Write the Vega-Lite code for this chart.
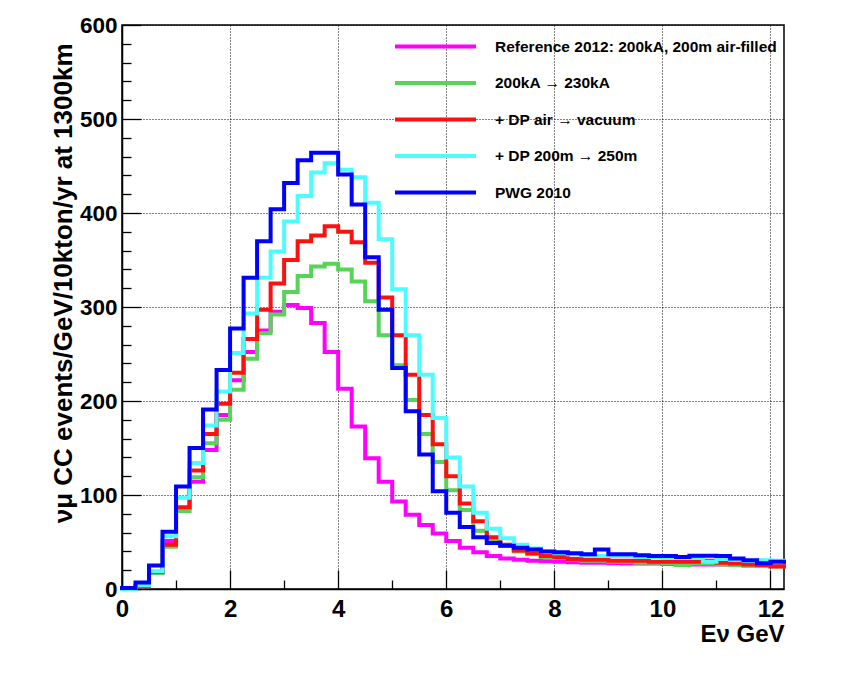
{
  "$schema": "https://vega.github.io/schema/vega-lite/v6.json",
  "width": 662,
  "height": 564,
  "autosize": {"type": "none"},
  "padding": {"left": 122, "top": 25, "right": 59, "bottom": 89},
  "background": "white",
  "config": {
    "view": {"stroke": "black", "strokeWidth": 1.5},
    "axis": {
      "domainColor": "black", "domainWidth": 1.5,
      "tickColor": "black", "tickWidth": 1.3,
      "gridColor": "black", "gridDash": [1, 2], "gridWidth": 1,
      "labelFont": "Liberation Sans", "labelFontWeight": "bold", "labelColor": "black",
      "titleFont": "Liberation Sans", "titleFontWeight": "bold", "titleColor": "black",
      "labelFlush": false, "labelOverlap": false
    }
  },
  "data": {
    "values": [
      {"E": 0, "ref": 0, "ka": 0, "vac": 0, "len": 0, "pwg": 1},
      {"E": 0.25, "ref": 3, "ka": 3, "vac": 3, "len": 4, "pwg": 7},
      {"E": 0.5, "ref": 17, "ka": 17, "vac": 18, "len": 19, "pwg": 25},
      {"E": 0.75, "ref": 51, "ka": 45, "vac": 47, "len": 56, "pwg": 61},
      {"E": 1.0, "ref": 86, "ka": 83, "vac": 87, "len": 97, "pwg": 109},
      {"E": 1.25, "ref": 114, "ka": 119, "vac": 126, "len": 134, "pwg": 150},
      {"E": 1.5, "ref": 148, "ka": 155, "vac": 165, "len": 174, "pwg": 191},
      {"E": 1.75, "ref": 185, "ka": 180, "vac": 197, "len": 210, "pwg": 233},
      {"E": 2.0, "ref": 222, "ka": 212, "vac": 230, "len": 251, "pwg": 277},
      {"E": 2.25, "ref": 252, "ka": 245, "vac": 266, "len": 293, "pwg": 331},
      {"E": 2.5, "ref": 275, "ka": 272, "vac": 297, "len": 331, "pwg": 370},
      {"E": 2.75, "ref": 295, "ka": 292, "vac": 325, "len": 359, "pwg": 404},
      {"E": 3.0, "ref": 302, "ka": 316, "vac": 350, "len": 391, "pwg": 432},
      {"E": 3.25, "ref": 299, "ka": 333, "vac": 370, "len": 418, "pwg": 456},
      {"E": 3.5, "ref": 283, "ka": 343, "vac": 376, "len": 443, "pwg": 464},
      {"E": 3.75, "ref": 252, "ka": 346, "vac": 386, "len": 453, "pwg": 464},
      {"E": 4.0, "ref": 213, "ka": 340, "vac": 380, "len": 446, "pwg": 441},
      {"E": 4.25, "ref": 173, "ka": 327, "vac": 369, "len": 438, "pwg": 409},
      {"E": 4.5, "ref": 139, "ka": 306, "vac": 347, "len": 411, "pwg": 353},
      {"E": 4.75, "ref": 114, "ka": 270, "vac": 310, "len": 372, "pwg": 297},
      {"E": 5.0, "ref": 93, "ka": 238, "vac": 270, "len": 319, "pwg": 235},
      {"E": 5.25, "ref": 79, "ka": 201, "vac": 228, "len": 270, "pwg": 189},
      {"E": 5.5, "ref": 68, "ka": 165, "vac": 185, "len": 228, "pwg": 143},
      {"E": 5.75, "ref": 59, "ka": 135, "vac": 154, "len": 182, "pwg": 104},
      {"E": 6.0, "ref": 51, "ka": 105, "vac": 120, "len": 140, "pwg": 81},
      {"E": 6.25, "ref": 44, "ka": 84, "vac": 91, "len": 109, "pwg": 66},
      {"E": 6.5, "ref": 39, "ka": 62, "vac": 72, "len": 81, "pwg": 55},
      {"E": 6.75, "ref": 35, "ka": 53, "vac": 55, "len": 64, "pwg": 49},
      {"E": 7.0, "ref": 32.5, "ka": 46, "vac": 47, "len": 54, "pwg": 46},
      {"E": 7.25, "ref": 31, "ka": 40, "vac": 41, "len": 47, "pwg": 44},
      {"E": 7.5, "ref": 30, "ka": 37, "vac": 38, "len": 43, "pwg": 42},
      {"E": 7.75, "ref": 29.5, "ka": 34, "vac": 35, "len": 40, "pwg": 40},
      {"E": 8.0, "ref": 29, "ka": 33, "vac": 34, "len": 38, "pwg": 39},
      {"E": 8.25, "ref": 28.5, "ka": 31, "vac": 32, "len": 37, "pwg": 38},
      {"E": 8.5, "ref": 28, "ka": 30, "vac": 31, "len": 36, "pwg": 37},
      {"E": 8.75, "ref": 28, "ka": 30, "vac": 31, "len": 35, "pwg": 42},
      {"E": 9.0, "ref": 27.5, "ka": 29, "vac": 30, "len": 35, "pwg": 37},
      {"E": 9.25, "ref": 27, "ka": 29, "vac": 30, "len": 35, "pwg": 37},
      {"E": 9.5, "ref": 27, "ka": 28, "vac": 30, "len": 34, "pwg": 36},
      {"E": 9.75, "ref": 27, "ka": 28, "vac": 29, "len": 34, "pwg": 35},
      {"E": 10.0, "ref": 26.5, "ka": 27, "vac": 29, "len": 33, "pwg": 35},
      {"E": 10.25, "ref": 26, "ka": 25.5, "vac": 29, "len": 33, "pwg": 34},
      {"E": 10.5, "ref": 26, "ka": 27, "vac": 29, "len": 33, "pwg": 35.5},
      {"E": 10.75, "ref": 26, "ka": 27, "vac": 30, "len": 29, "pwg": 35.5},
      {"E": 11.0, "ref": 26, "ka": 26, "vac": 28, "len": 32, "pwg": 35},
      {"E": 11.25, "ref": 25.5, "ka": 25.5, "vac": 27, "len": 31, "pwg": 32.5},
      {"E": 11.5, "ref": 25, "ka": 25, "vac": 26, "len": 30, "pwg": 30.5},
      {"E": 11.75, "ref": 25, "ka": 25, "vac": 25.5, "len": 30.5, "pwg": 27.5},
      {"E": 12.0, "ref": 24.5, "ka": 24, "vac": 24, "len": 30, "pwg": 29},
      {"E": 12.25, "ref": 24.5, "ka": 24, "vac": 24, "len": 30, "pwg": 29}
    ]
  },
  "transform": [{"fold": ["ref", "ka", "vac", "len", "pwg"], "as": ["series", "v"]}],
  "mark": {"type": "line", "interpolate": "step-after", "strokeWidth": 4, "strokeJoin": "miter", "strokeCap": "square"},
  "encoding": {
    "x": {
      "field": "E", "type": "quantitative",
      "scale": {"domain": [0, 12.25], "nice": false, "zero": false},
      "axis": {
        "values": [0, 0.5, 1, 1.5, 2, 2.5, 3, 3.5, 4, 4.5, 5, 5.5, 6, 6.5, 7, 7.5, 8, 8.5, 9, 9.5, 10, 10.5, 11, 11.5, 12],
        "format": "d",
        "labelExpr": "datum.value % 2 === 0 ? datum.label : ''",
        "labelFontSize": 24,
        "labelPadding": 27,
        "tickSize": {"condition": {"test": "datum.value % 2 === 0", "value": -19}, "value": -9},
        "gridOpacity": {"condition": {"test": "datum.value % 2 === 0", "value": 1}, "value": 0},
        "title": "Eν GeV",
        "titleAnchor": "end",
        "titleFontSize": 24,
        "titlePadding": -9
      }
    },
    "y": {
      "field": "v", "type": "quantitative",
      "scale": {"domain": [0, 600], "nice": false},
      "axis": {
        "values": [0, 20, 40, 60, 80, 100, 120, 140, 160, 180, 200, 220, 240, 260, 280, 300, 320, 340, 360, 380, 400, 420, 440, 460, 480, 500, 520, 540, 560, 580, 600],
        "labelExpr": "datum.value % 100 === 0 ? datum.label : ''",
        "labelFontSize": 22.5,
        "labelPadding": 24,
        "tickSize": {"condition": {"test": "datum.value % 100 === 0", "value": -19}, "value": -9},
        "gridOpacity": {"condition": {"test": "datum.value % 100 === 0", "value": 1}, "value": 0},
        "title": "νμ CC events/GeV/10kton/yr at 1300km",
        "titleAnchor": "end",
        "titleFontSize": 26,
        "titleY": 18,
        "titlePadding": 3
      }
    },
    "color": {
      "field": "series", "type": "nominal",
      "scale": {"domain": ["ref", "ka", "vac", "len", "pwg"], "range": ["#ff00ff", "#57d357", "#ff1010", "#4dfcfc", "#0000ff"]},
      "legend": {
        "orient": "none", "legendX": 298, "legendY": 6,
        "title": null,
        "symbolType": "M-3,0H3",
        "symbolSize": 729,
        "symbolStrokeWidth": 4,
        "labelFont": "Liberation Sans", "labelFontWeight": "bold", "labelFontSize": 15.5, "labelColor": "black",
        "labelOffset": 44,
        "rowPadding": 12.5,
        "labelLimit": 400,
        "labelExpr": "datum.value === 'ref' ? 'Reference 2012: 200kA, 200m air-filled' : datum.value === 'ka' ? '200kA → 230kA' : datum.value === 'vac' ? '+ DP air  → vacuum' : datum.value === 'len' ? '+ DP 200m  → 250m' : 'PWG 2010'"
      }
    }
  }
}
